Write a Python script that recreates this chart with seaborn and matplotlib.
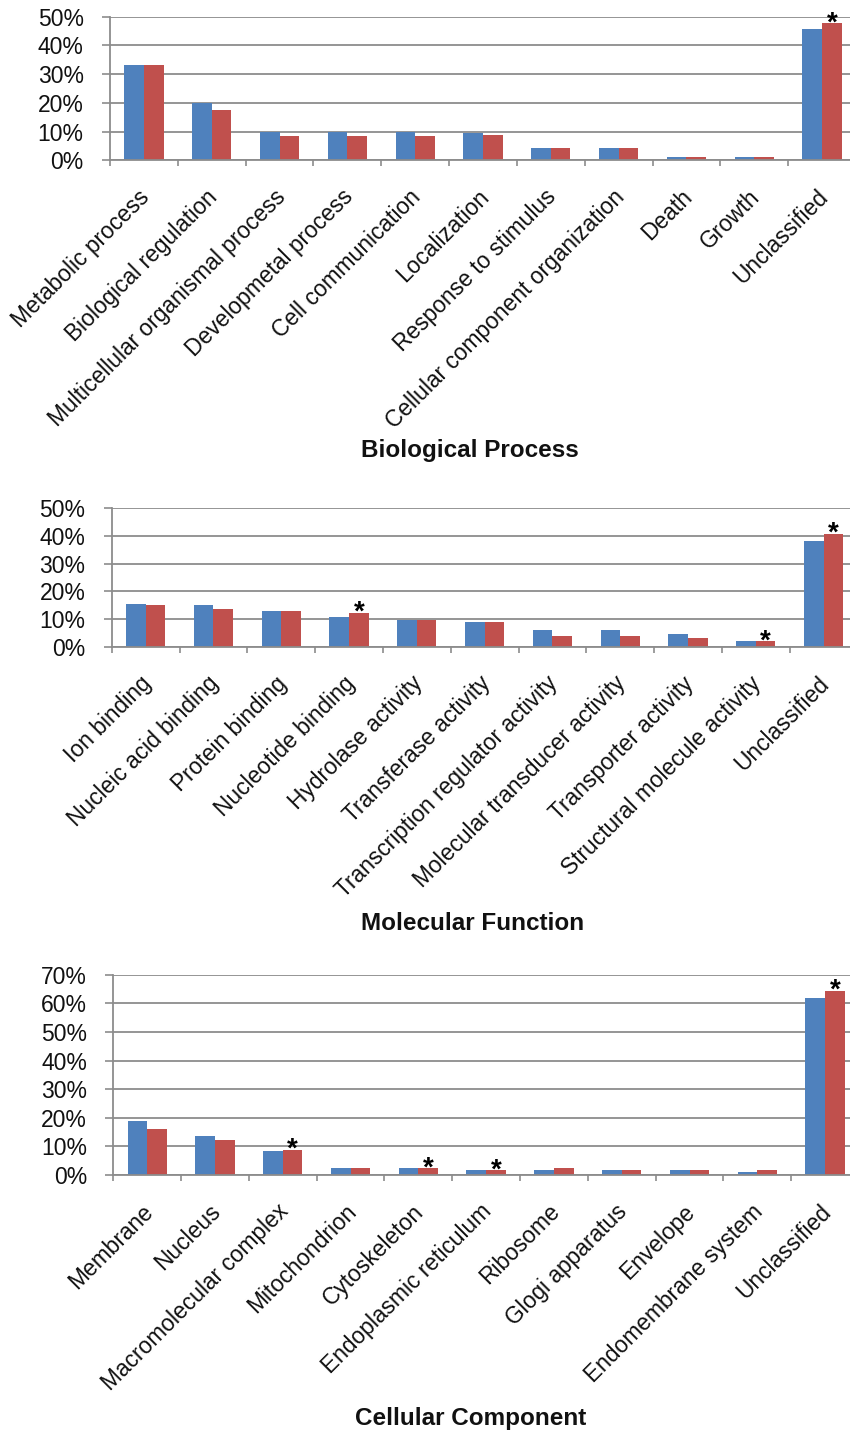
import matplotlib
matplotlib.use("Agg")
import numpy as np
import pandas as pd
import matplotlib.pyplot as plt
import seaborn as sns
from matplotlib.transforms import ScaledTranslation
from matplotlib.ticker import FixedLocator

# ---- Biological Process ----
bp_categories = ["Metabolic process", "Biological regulation",
                 "Multicellular organismal process", "Developmetal process",
                 "Cell communication", "Localization", "Response to stimulus",
                 "Cellular component organization", "Death", "Growth",
                 "Unclassified"]
bp_series1 = [33.2, 20.0, 10.0, 10.0, 10.0, 9.6, 4.3, 4.3, 1.0, 1.0, 45.6]
bp_series2 = [33.2, 17.4, 8.4, 8.4, 8.4, 8.8, 4.3, 4.3, 1.0, 1.0, 47.7]
bp_star = [0, 0, 0, 0, 0, 0, 0, 0, 0, 0, 1]

# ---- Molecular Function ----
mf_categories = ["Ion binding", "Nucleic acid binding", "Protein binding",
                 "Nucleotide binding", "Hydrolase activity",
                 "Transferase activity", "Transcription regulator activity",
                 "Molecular transducer activity", "Transporter activity",
                 "Structural molecule activity", "Unclassified"]
mf_series1 = [15.6, 15.0, 12.9, 10.9, 9.7, 8.9, 6.1, 6.1, 4.8, 2.0, 38.0]
mf_series2 = [15.0, 13.7, 12.9, 12.2, 9.7, 8.9, 4.1, 4.1, 3.4, 2.0, 40.8]
mf_star = [0, 0, 0, 1, 0, 0, 0, 0, 0, 1, 1]

# ---- Cellular Component ----
cc_categories = ["Membrane", "Nucleus", "Macromolecular complex",
                 "Mitochondrion", "Cytoskeleton", "Endoplasmic reticulum",
                 "Ribosome", "Glogi apparatus", "Envelope",
                 "Endomembrane system", "Unclassified"]
cc_series1 = [18.8, 13.5, 8.3, 2.3, 2.3, 1.6, 1.6, 1.6, 1.6, 1.0, 61.8]
cc_series2 = [16.1, 12.1, 8.9, 2.3, 2.3, 1.6, 2.3, 1.6, 1.6, 1.6, 64.4]
cc_star = [0, 0, 1, 0, 1, 1, 0, 0, 0, 0, 1]

series_names = ["series 1", "series 2"]
palette = ["#4F81BD", "#C0504D"]
grid_gray = "#8C8C8C"

sns.set_theme(style="white")
plt.rcParams["font.family"] = ["Liberation Sans", "DejaVu Sans"]

W, H = 850, 1433
fig = plt.figure(figsize=(W / 100, H / 100), dpi=100)


def px_axes(left, top, right, bottom):
    return fig.add_axes([left / W, 1 - bottom / H, (right - left) / W,
                         (bottom - top) / H])


def draw_panel(ax, cats, s1, s2, stars, ymax, title, title_xy):
    df = pd.DataFrame({
        "category": cats * 2,
        "value": list(s1) + list(s2),
        "series": [series_names[0]] * len(cats) + [series_names[1]] * len(cats),
    })
    sns.barplot(data=df, x="category", y="value", hue="series",
                order=cats, hue_order=series_names, palette=palette,
                saturation=1, width=0.58, gap=0, legend=False,
                linewidth=0, ax=ax)
    ax.set_xlim(-0.5, len(cats) - 0.5)
    ax.set_ylim(0, ymax)
    ax.set_xlabel("")
    ax.set_ylabel("")

    # y axis: percentage ticks with horizontal grid
    yt = np.arange(0, ymax + 1, 10)
    ax.set_yticks(yt)
    ax.set_yticklabels([f"{int(v)}%" for v in yt])
    ax.yaxis.grid(True, color=grid_gray, linewidth=1.3)
    ax.set_axisbelow(True)
    ax.tick_params(axis="y", which="major", length=6, width=1.2,
                   color=grid_gray, pad=13, labelsize=16.5,
                   labelcolor="#111111", left=True)

    # x axis: boundary ticks between categories, rotated labels
    ax.xaxis.set_minor_locator(FixedLocator(np.arange(-0.5, len(cats), 1.0)))
    ax.tick_params(axis="x", which="minor", length=4.5, width=1.2,
                   color=grid_gray, direction="out", bottom=True)
    ax.tick_params(axis="x", which="major", length=0, pad=18,
                   labelsize=16.4, labelcolor="#111111")
    offset = ScaledTranslation(-0.06, 0, fig.dpi_scale_trans)
    for lab in ax.get_xticklabels():
        lab.set_rotation(45)
        lab.set_ha("right")
        lab.set_va("top")
        lab.set_rotation_mode("anchor")
        lab.set_transform(lab.get_transform() + offset)

    for side in ["top", "right"]:
        ax.spines[side].set_visible(False)
    for side in ["left", "bottom"]:
        ax.spines[side].set_color(grid_gray)
        ax.spines[side].set_linewidth(1.3)

    # significance marks above the second series
    for i, (flag, v) in enumerate(zip(stars, s2)):
        if flag:
            ax.annotate("*", xy=(i + 0.145, v), xytext=(0, -5),
                        textcoords="offset points", ha="center",
                        va="baseline", fontsize=20, fontweight="bold",
                        color="black", annotation_clip=False)

    fig.text(title_xy[0] / W, 1 - title_xy[1] / H, title, ha="center",
             va="center", fontsize=17.5, fontweight="bold", color="#111111")


ax1 = px_axes(110, 16.7, 856, 160.3)
draw_panel(ax1, bp_categories, bp_series1, bp_series2, bp_star, 50,
           "Biological Process", (470, 450))

ax2 = px_axes(111.7, 508, 857.5, 647)
draw_panel(ax2, mf_categories, mf_series1, mf_series2, mf_star, 50,
           "Molecular Function", (473, 923))

ax3 = px_axes(113.3, 974.7, 859, 1175)
draw_panel(ax3, cc_categories, cc_series1, cc_series2, cc_star, 70,
           "Cellular Component", (471, 1418))

fig.savefig("out.png", dpi=100, facecolor="white")
